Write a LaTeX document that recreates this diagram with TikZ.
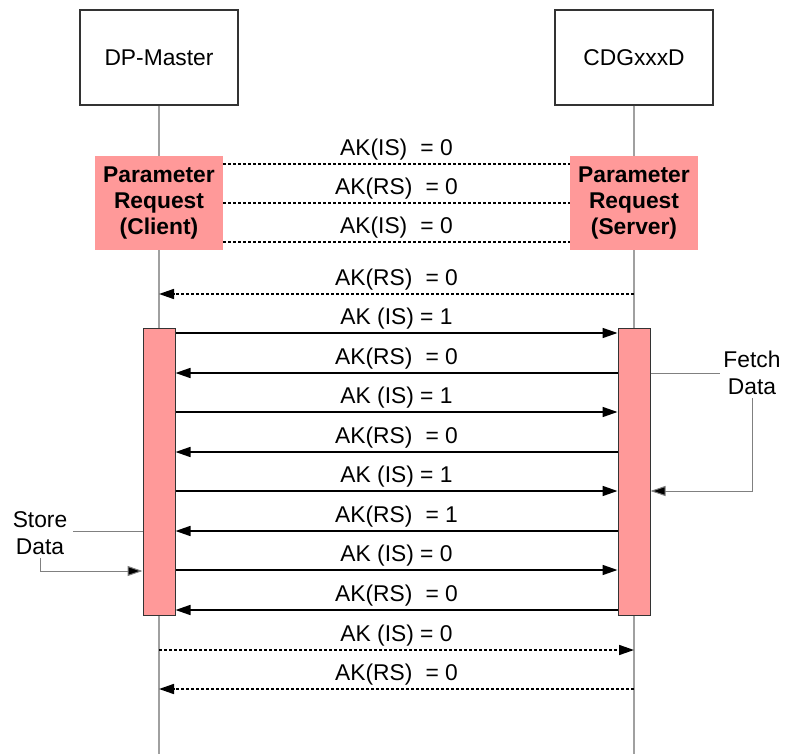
\documentclass[tikz,border=0pt]{standalone}
\usepackage{fontspec}
\setmainfont{Liberation Sans}
\usetikzlibrary{arrows.meta}
\definecolor{pinkc}{HTML}{FF9999}
\definecolor{lifec}{HTML}{A0A0A0}
\definecolor{notec}{HTML}{808080}
\begin{document}
\begin{tikzpicture}[x=1pt,y=-1pt,
  every node/.style={font=\fontsize{22.8}{26.5}\selectfont},
  actor/.style={draw=black!80, line width=1.3pt, fill=white, minimum width=158, minimum height=95, inner sep=0},
  life/.style={draw=lifec, line width=1.3pt},
  preq/.style={fill=pinkc, minimum width=128, minimum height=94, align=center, inner sep=0, font=\fontsize{22.8}{26}\selectfont\bfseries},
  actbox/.style={draw=black!80, line width=1pt, fill=pinkc, minimum width=32, minimum height=287, inner sep=0},
  tip/.style={-{Triangle[length=15pt,width=10pt]}},
  dotline/.style={line width=1.6pt, dash pattern=on 3pt off 2pt},
  msg/.style={line width=1.6pt, tip},
  dmsg/.style={dotline, tip},
  lbl/.style={inner sep=0},
  note/.style={draw=notec, line width=1pt},
  notetext/.style={align=center, inner sep=0}]
\useasboundingbox (0,0) rectangle (787,754);
% actors
\node[actor] (dpm) at (159,57.5) {DP-Master};
\node[actor] (cdg) at (634,57.5) {CDGxxxD};
\coordinate (dpmend) at (159,754);
\coordinate (cdgend) at (634,754);
\draw[life] (dpm.south) -- (dpmend);
\draw[life] (cdg.south) -- (cdgend);
% parameter request boxes
\node[preq] (pc) at (159,203) {Parameter\\Request\\(Client)};
\node[preq] (ps) at (634,203) {Parameter\\Request\\(Server)};
\foreach \y/\t in {164/{AK(IS)\hspace{0.3em} = 0},203/{AK(RS)\hspace{0.3em} = 0},242/{AK(IS)\hspace{0.3em} = 0}}{
  \coordinate (pa\y) at (pc.east |- 0,\y);
  \coordinate (pb\y) at (ps.west |- 0,\y);
  \draw[dotline] (pa\y) -- (pb\y);
  \node[lbl] at (396.5,\y-14) {\t};
}
% dotted RS before activation
\coordinate (m294a) at (634,294);
\coordinate (m294b) at (159,294);
\draw[dmsg] (m294a) -- (m294b);
\node[lbl] at (396.5,280) {AK(RS)\hspace{0.3em} = 0};
% activation boxes
\node[actbox] (al) at (159,471.5) {};
\node[actbox] (ar) at (634,471.5) {};
% solid messages
\foreach \y/\d/\t in {333/r/{AK (IS) = 1},373/l/{AK(RS)\hspace{0.3em} = 0},412/r/{AK (IS) = 1},452/l/{AK(RS)\hspace{0.3em} = 0},491/r/{AK (IS) = 1},531/l/{AK(RS)\hspace{0.3em} = 1},570/r/{AK (IS) = 0},610/l/{AK(RS)\hspace{0.3em} = 0}}{
  \coordinate (ml\y) at (al.east |- 0,\y);
  \coordinate (mr\y) at (ar.west |- 0,\y);
  \if r\d
    \draw[msg] (ml\y) -- (mr\y);
  \else
    \draw[msg] (mr\y) -- (ml\y);
  \fi
  \node[lbl] at (396.5,\y-14) {\t};
}
% dotted messages after activation
\coordinate (m650a) at (159,650);
\coordinate (m650b) at (634,650);
\draw[dmsg] (m650a) -- (m650b);
\node[lbl] at (396.5,636) {AK (IS) = 0};
\coordinate (m689a) at (634,689);
\coordinate (m689b) at (159,689);
\draw[dmsg] (m689a) -- (m689b);
\node[lbl] at (396.5,675) {AK(RS)\hspace{0.3em} = 0};
% notes
\node[notetext] (fetch) at (752,373) {Fetch\\Data};
\coordinate (f1) at (ar.east |- 0,373);
\coordinate (f2) at (720,373);
\draw[note] (f1) -- (f2);
\coordinate (f3) at (752,398);
\coordinate (f4) at (752,491);
\coordinate (f5) at (ar.east |- 0,491);
\draw[note, -{Triangle[length=15pt,width=10pt,fill=black]}] (f3) -- (f4) -- (f5);
\node[notetext] (store) at (40,533) {Store\\Data};
\coordinate (s1) at (73,531);
\coordinate (s2) at (al.west |- 0,531);
\draw[note] (s1) -- (s2);
\coordinate (s3) at (40,558);
\coordinate (s4) at (40,571);
\coordinate (s5) at (al.west |- 0,571);
\draw[note, -{Triangle[length=15pt,width=10pt,fill=black]}] (s3) -- (s4) -- (s5);
\end{tikzpicture}
\end{document}
